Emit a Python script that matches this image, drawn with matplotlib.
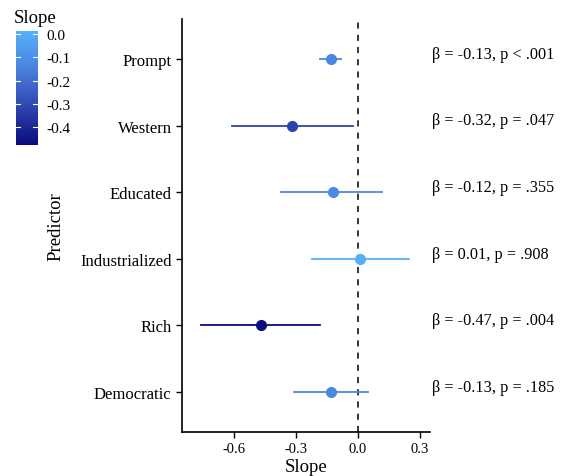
import numpy as np
import matplotlib.pyplot as plt
from matplotlib.colors import LinearSegmentedColormap, Normalize
from matplotlib.colorbar import ColorbarBase

predictors = ["Democratic", "Rich", "Industrialized", "Educated", "Western", "Prompt"]
slopes = [-0.13, -0.47, 0.01, -0.12, -0.32, -0.13]
ci_low = [-0.31, -0.76, -0.22, -0.37, -0.61, -0.18]
ci_high = [0.05, -0.18, 0.25, 0.12, -0.02, -0.08]
labels = [
    "β = -0.13, p = .185",
    "β = -0.47, p = .004",
    "β = 0.01, p = .908",
    "β = -0.12, p = .355",
    "β = -0.32, p = .047",
    "β = -0.13, p < .001",
]

plt.rcParams['font.family'] = ['Liberation Serif', 'DejaVu Serif']

cmap = LinearSegmentedColormap.from_list("slope", ["#0a0a80", "#2f45ad", "#4a80de", "#56B1F7"])
norm = Normalize(vmin=-0.475, vmax=0.013)

fig = plt.figure(figsize=(5.61, 4.77), dpi=100)
ax = fig.add_axes([0.3244, 0.0922, 0.442, 0.8658])

y = np.arange(1, len(predictors) + 1)
ax.axvline(0, color="black", linestyle=(0, (4, 4)), linewidth=1.1, zorder=1)
for i in range(len(predictors)):
    c = cmap(norm(slopes[i]))
    ax.plot([ci_low[i], ci_high[i]], [y[i], y[i]], color=c, linewidth=1.3, zorder=2)
    ax.plot(slopes[i], y[i], "o", color=c, markersize=7, zorder=3)
    ax.text(0.36, y[i] + 0.08, labels[i], ha="left", va="center", fontsize=11.7, clip_on=False)

ax.set_xlim(-0.85, 0.35)
ax.set_ylim(0.4, 6.6)
ax.set_yticks(y)
ax.set_yticklabels(predictors, fontsize=12)
ax.set_xticks([-0.6, -0.3, 0.0, 0.3])
ax.set_xticklabels(["-0.6", "-0.3", "0.0", "0.3"], fontsize=10.5)
ax.set_xlabel("Slope", fontsize=13.5, labelpad=2)
ax.set_ylabel("Predictor", fontsize=13.5, labelpad=11)
ax.spines["top"].set_visible(False)
ax.spines["right"].set_visible(False)
ax.spines["left"].set_linewidth(1.2)
ax.spines["bottom"].set_linewidth(1.2)
ax.tick_params(direction="out", length=4, width=1, colors="black")

cax = fig.add_axes([0.0285, 0.694, 0.039, 0.239])
cb = ColorbarBase(cax, cmap=cmap, norm=norm, orientation="vertical")
cb.set_ticks([0.0, -0.1, -0.2, -0.3, -0.4])
cb.set_ticklabels(["0.0", "-0.1", "-0.2", "-0.3", "-0.4"])
cb.outline.set_visible(False)
cax.tick_params(axis="y", length=0, labelsize=11, pad=6)
for t in [0.0, -0.1, -0.2, -0.3, -0.4]:
    cax.plot([0, 0.2], [t, t], color="white", linewidth=0.8)
    cax.plot([0.8, 1], [t, t], color="white", linewidth=0.8)
cax.text(-0.1, 1.04, "Slope", transform=cax.transAxes, fontsize=13.5, ha="left", va="bottom")

fig.savefig("out.png", dpi=100)
